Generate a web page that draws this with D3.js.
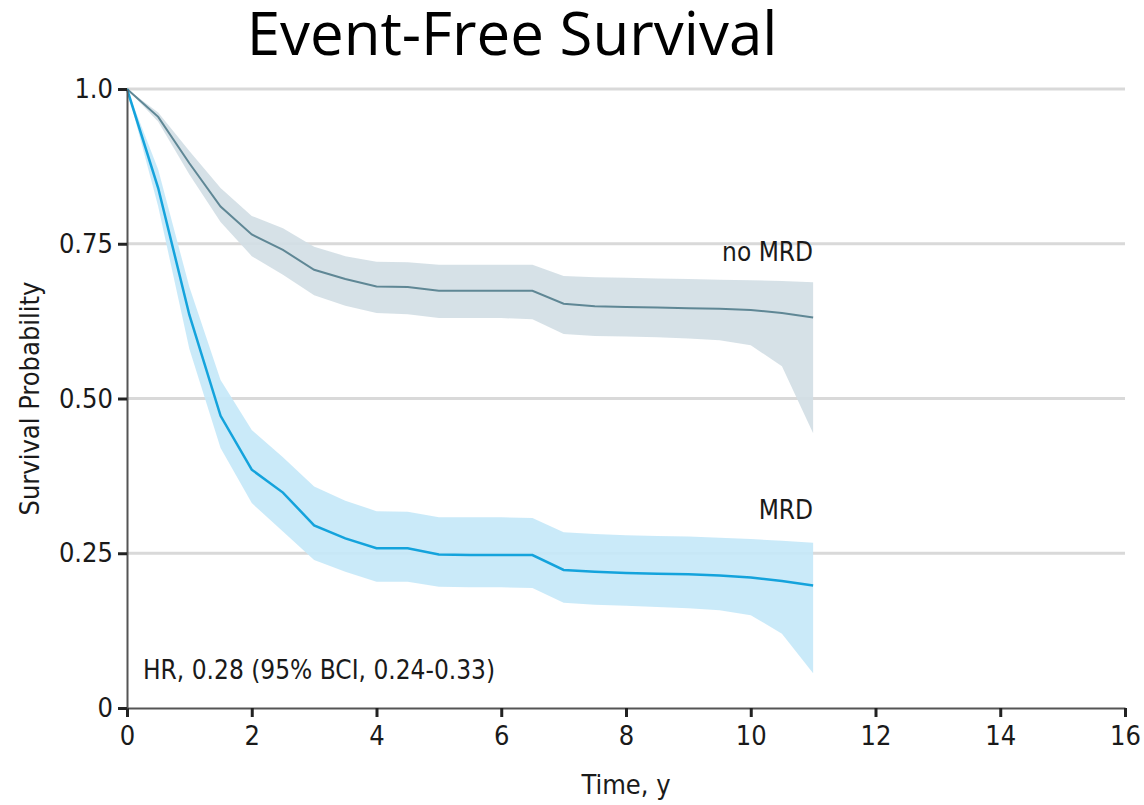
<!DOCTYPE html>
<html>
<head>
<meta charset="utf-8">
<script src="https://cdn.jsdelivr.net/npm/d3@7"></script>
<style>
  body { margin: 0; background: #fff; }
  .tick text { font-family: "DejaVu Sans Condensed", "Liberation Sans Narrow", sans-serif; }
</style>
</head>
<body>
<div id="km-chart"></div>
<script>
// Event-free survival, Kaplan-Meier curves with 95% bands
var times = [0, 0.5, 1, 1.5, 2, 2.5, 3, 3.5, 4, 4.5, 5, 5.5, 6, 6.5, 7, 7.5, 8, 8.5, 9, 9.5, 10, 10.5, 11];

var noMrdSurv  = [1, 0.955, 0.88, 0.81, 0.765, 0.74, 0.708, 0.693, 0.681, 0.680, 0.674, 0.674, 0.674, 0.674, 0.653, 0.649, 0.648, 0.647, 0.646, 0.645, 0.643, 0.638, 0.631];
var noMrdUpper = [1, 0.962, 0.90, 0.84, 0.795, 0.775, 0.745, 0.73, 0.721, 0.72, 0.716, 0.716, 0.716, 0.716, 0.698, 0.696, 0.695, 0.694, 0.693, 0.692, 0.691, 0.69, 0.688];
var noMrdLower = [1, 0.947, 0.862, 0.785, 0.73, 0.70, 0.667, 0.65, 0.638, 0.636, 0.630, 0.630, 0.630, 0.628, 0.604, 0.601, 0.600, 0.599, 0.597, 0.594, 0.586, 0.552, 0.444];

var mrdSurv  = [1, 0.84, 0.635, 0.472, 0.385, 0.348, 0.295, 0.274, 0.258, 0.258, 0.248, 0.247, 0.247, 0.247, 0.223, 0.220, 0.218, 0.217, 0.216, 0.214, 0.211, 0.205, 0.198];
var mrdUpper = [1, 0.87, 0.68, 0.53, 0.449, 0.405, 0.358, 0.335, 0.318, 0.317, 0.308, 0.308, 0.308, 0.307, 0.284, 0.281, 0.279, 0.278, 0.277, 0.275, 0.273, 0.27, 0.267];
var mrdLower = [1, 0.81, 0.58, 0.42, 0.331, 0.285, 0.239, 0.22, 0.204, 0.204, 0.196, 0.195, 0.195, 0.194, 0.170, 0.167, 0.165, 0.163, 0.161, 0.158, 0.150, 0.12, 0.056];

var xTicks = [0, 2, 4, 6, 8, 10, 12, 14, 16];
var yTicks = [0, 0.25, 0.5, 0.75, 1.0];
var yTickLabels = ["0", "0.25", "0.50", "0.75", "1.0"];

var margin = {top: 89, right: 19, bottom: 97, left: 127},
    width = 1144 - margin.left - margin.right,
    height = 805 - margin.top - margin.bottom;

var narrow = "'DejaVu Sans Condensed', 'Liberation Sans Narrow', sans-serif";

var x = d3.scaleLinear().domain([0, 16]).range([0, width]);
var y = d3.scaleLinear().domain([0, 1]).range([height, 0]);

var root = d3.select("#km-chart").append("svg")
    .attr("width", 1144)
    .attr("height", 805);

root.append("text")
    .attr("x", 512)
    .attr("y", 55)
    .attr("text-anchor", "middle")
    .style("font-family", "'Open Sans', 'Noto Sans', sans-serif")
    .style("font-size", "60px")
    .style("fill", "#000")
    .text("Event-Free Survival");

var svg = root.append("g")
    .attr("transform", "translate(" + margin.left + "," + margin.top + ")");

// gridlines
svg.selectAll(".grid")
    .data(yTicks.filter(function(d) { return d > 0; }))
  .enter().append("line")
    .attr("x1", 0)
    .attr("x2", width)
    .attr("y1", function(d) { return y(d); })
    .attr("y2", function(d) { return y(d); })
    .style("stroke", "#d9d9d9")
    .style("stroke-width", 3);

function rows(s, lo, hi) {
  return times.map(function(t, i) { return {t: t, s: s[i], lo: lo[i], hi: hi[i]}; });
}

var area = d3.area()
    .x(function(d) { return x(d.t); })
    .y0(function(d) { return y(d.lo); })
    .y1(function(d) { return y(d.hi); });

var line = d3.line()
    .x(function(d) { return x(d.t); })
    .y(function(d) { return y(d.s); });

var groups = [
  {name: "no MRD", data: rows(noMrdSurv, noMrdLower, noMrdUpper), band: "#d3dee5", stroke: "#5f8795", sw: 2},
  {name: "MRD", data: rows(mrdSurv, mrdLower, mrdUpper), band: "#c5e8f8", stroke: "#14a3dc", sw: 2.5}
];

groups.forEach(function(g) {
  svg.append("path")
      .datum(g.data)
      .attr("d", area)
      .style("fill", g.band)
      .style("opacity", 0.92);
});

groups.forEach(function(g) {
  svg.append("path")
      .datum(g.data)
      .attr("d", line)
      .style("fill", "none")
      .style("stroke", g.stroke)
      .style("stroke-width", g.sw);
});

// curve labels
svg.append("text")
    .attr("x", x(11))
    .attr("y", y(0.75) + 17)
    .attr("text-anchor", "end")
    .style("font-family", narrow)
    .style("font-size", "26px")
    .style("fill", "#1a1a1a")
    .text("no MRD");

svg.append("text")
    .attr("x", x(11))
    .attr("y", y(0.25) - 34)
    .attr("text-anchor", "end")
    .style("font-family", narrow)
    .style("font-size", "26px")
    .style("fill", "#1a1a1a")
    .text("MRD");

svg.append("text")
    .attr("x", 16)
    .attr("y", height - 29)
    .style("font-family", narrow)
    .style("font-size", "26px")
    .style("fill", "#1a1a1a")
    .text("HR, 0.28 (95% BCI, 0.24-0.33)");

// axes
var xAxis = d3.axisBottom(x)
    .tickValues(xTicks)
    .tickSize(9)
    .tickPadding(9)
    .tickSizeOuter(0);

var yAxis = d3.axisLeft(y)
    .tickValues(yTicks)
    .tickFormat(function(d, i) { return yTickLabels[i]; })
    .tickSize(9)
    .tickPadding(5)
    .tickSizeOuter(0);

var gx = svg.append("g")
    .attr("transform", "translate(0," + height + ")")
    .call(xAxis);

var gy = svg.append("g")
    .call(yAxis);

[gx, gy].forEach(function(g) {
  g.select(".domain").style("stroke", "#555").style("stroke-width", 2);
  g.selectAll(".tick line").style("stroke", "#222").style("stroke-width", 3);
  g.selectAll(".tick text").style("font-size", "27px").style("fill", "#1a1a1a");
});

svg.append("text")
    .attr("x", x(8))
    .attr("y", height + 86)
    .attr("text-anchor", "middle")
    .style("font-family", narrow)
    .style("font-size", "27px")
    .style("fill", "#1a1a1a")
    .text("Time, y");

svg.append("text")
    .attr("transform", "rotate(-90)")
    .attr("x", -y(0.5))
    .attr("y", -88)
    .attr("text-anchor", "middle")
    .style("font-family", narrow)
    .style("font-size", "27px")
    .style("fill", "#1a1a1a")
    .text("Survival Probability");
</script>
</body>
</html>
